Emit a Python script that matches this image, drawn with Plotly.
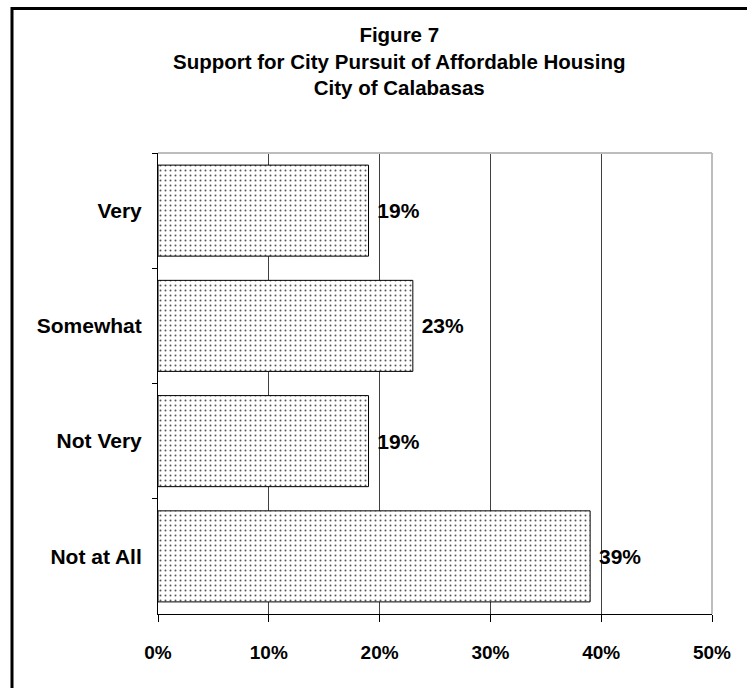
import plotly.graph_objects as go

# Survey responses, listed top to bottom
categories = ["Very", "Somewhat", "Not Very", "Not at All"]
percent = [19, 23, 19, 39]
x_ticks = [0, 10, 20, 30, 40, 50]

W, H = 747, 688
L, R, T, B = 158, 35, 153, 74
pw, ph = W - L - R, H - T - B

FONT = "Liberation Sans, Arial, sans-serif"

fig = go.Figure(
    go.Bar(
        y=categories,
        x=percent,
        orientation="h",
        width=0.79,
        marker=dict(
            color="white",
            line=dict(color="black", width=1),
            pattern=dict(shape=".", size=5, solidity=0.12,
                         fgcolor="#555555", bgcolor="white", fillmode="replace"),
        ),
        texttemplate=" %{x}%",
        textposition="outside",
        textfont=dict(family=FONT, size=21, color="black", weight="bold"),
        cliponaxis=False,
        hoverinfo="skip",
    )
)


def px_x(p):
    return (p - L) / pw


def px_y(p):
    return (H - B - p) / ph


shapes = [
    # top and right edges of the plot area
    dict(type="line", xref="paper", yref="paper", x0=0, x1=1, y0=1, y1=1,
         line=dict(color="#bdbdbd", width=2)),
    dict(type="line", xref="paper", yref="paper", x0=1, x1=1, y0=0, y1=1,
         line=dict(color="#bdbdbd", width=2)),
    # outer frame
    dict(type="rect", xref="paper", yref="paper",
         x0=px_x(12), x1=px_x(W + 20), y0=px_y(H + 20), y1=px_y(8.5),
         line=dict(color="black", width=3), layer="below"),
]

fig.add_annotation(
    text="Figure 7<br>Support for City Pursuit of Affordable Housing<br>City of Calabasas",
    xref="paper", yref="paper",
    x=px_x(399), y=px_y(21),
    xanchor="center", yanchor="top",
    showarrow=False,
    font=dict(family=FONT, size=20.5, color="black", weight="bold"),
)

fig.update_layout(
    width=W,
    height=H,
    margin=dict(l=L, r=R, t=T, b=B, pad=0),
    paper_bgcolor="white",
    plot_bgcolor="white",
    showlegend=False,
    font=dict(family=FONT, size=19, color="black", weight="bold"),
    shapes=shapes,
    xaxis=dict(
        range=[0, 50],
        tickvals=x_ticks,
        ticktext=[f"{v}%" for v in x_ticks],
        showgrid=True,
        gridcolor="#404040",
        gridwidth=1,
        showline=True,
        linecolor="black",
        linewidth=1,
        ticks="outside",
        ticklen=7,
        tickcolor="black",
        ticklabelstandoff=14,
        tickfont=dict(family=FONT, size=19, color="black", weight="bold"),
        zeroline=False,
        fixedrange=True,
    ),
    yaxis=dict(
        categoryorder="array",
        categoryarray=categories,
        autorange="reversed",
        showgrid=False,
        showline=True,
        linecolor="black",
        linewidth=1,
        ticks="outside",
        tickson="boundaries",
        ticklen=5,
        tickcolor="black",
        ticklabelstandoff=11,
        tickfont=dict(family=FONT, size=21, color="black", weight="bold"),
        zeroline=False,
        fixedrange=True,
    ),
)

fig.write_html("out.html", config={"displayModeBar": False})
